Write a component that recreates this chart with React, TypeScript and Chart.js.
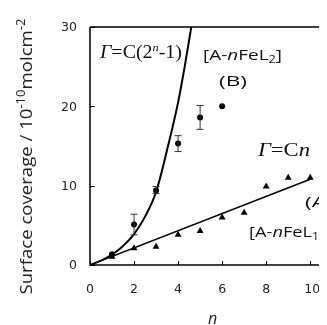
import React, { useEffect, useRef } from "react";
import { Chart, registerables } from "chart.js";

Chart.register(...registerables);

// ---- data ----
const nB = [1, 2, 3, 4, 5, 6];
const coverageB = [1.35, 5.1, 9.4, 15.3, 18.6, 20.0];
const errLowB = [1.35, 3.8, 9.0, 14.3, 17.1, 20.0];
const errHighB = [1.35, 6.4, 9.9, 16.3, 20.1, 20.0];

const nA = [1, 2, 3, 4, 5, 6, 7, 8, 9, 10];
const coverageA = [1.05, 2.1, 2.3, 3.8, 4.3, 6.0, 6.6, 9.9, 11.0, 11.0];

const fitExpN = [0, 0.5, 1, 1.5, 2, 2.5, 3, 3.5, 4, 4.3, 4.6];
const fitExpY = [0, 0.55, 1.3, 2.4, 3.9, 6.1, 9.2, 14.5, 20.5, 25, 30];

const fitLinN = [0, 10];
const fitLinY = [0, 10.8];

const xTicks = [0, 2, 4, 6, 8, 10];
const yTicks = [0, 10, 20, 30];

const TICK_FONT = "12.5px 'DejaVu Sans'";
const SANS = "'Open Sans'";
const SERIF = "'Liberation Serif'";

type Run = { t: string; f: string; dy?: number };

function runsWidth(ctx: CanvasRenderingContext2D, runs: Run[]) {
  let w = 0;
  for (const r of runs) {
    ctx.font = r.f;
    w += ctx.measureText(r.t).width;
  }
  return w;
}
// draws runs starting at (x, y); if fitWidth given, stretched horizontally to it
function drawRuns(ctx: CanvasRenderingContext2D, x: number, y: number, runs: Run[], fitWidth?: number) {
  const w = runsWidth(ctx, runs);
  const sx = fitWidth ? fitWidth / w : 1;
  ctx.save();
  ctx.translate(x, y);
  ctx.scale(sx, 1);
  let cx = 0;
  for (const r of runs) {
    ctx.font = r.f;
    ctx.fillText(r.t, cx, r.dy || 0);
    cx += ctx.measureText(r.t).width;
  }
  ctx.restore();
  return w * sx;
}

const decorPlugin = {
  id: "decor",
  afterDatasetsDraw(chart: any) {
    const ctx: CanvasRenderingContext2D = chart.ctx;
    const xs = chart.scales.x;
    const ys = chart.scales.y;
    const a = chart.chartArea;
    ctx.save();
    // error bars
    ctx.strokeStyle = "#333";
    ctx.lineWidth = 1;
    for (let i = 0; i < nB.length; i++) {
      if (errHighB[i] - errLowB[i] < 0.3) continue;
      const px = xs.getPixelForValue(nB[i]);
      const y1 = ys.getPixelForValue(errLowB[i]);
      const y2 = ys.getPixelForValue(errHighB[i]);
      ctx.beginPath();
      ctx.moveTo(px, y1);
      ctx.lineTo(px, y2);
      ctx.moveTo(px - 3.5, y1);
      ctx.lineTo(px + 3.5, y1);
      ctx.moveTo(px - 3.5, y2);
      ctx.lineTo(px + 3.5, y2);
      ctx.stroke();
    }
    // axes box
    ctx.strokeStyle = "#000";
    ctx.lineWidth = 1.5;
    ctx.beginPath();
    ctx.moveTo(a.left, a.top);
    ctx.lineTo(a.right, a.top);
    ctx.moveTo(a.left, a.top);
    ctx.lineTo(a.left, a.bottom);
    ctx.lineTo(a.right, a.bottom);
    ctx.stroke();
    // tick marks (inward)
    ctx.lineWidth = 1;
    ctx.beginPath();
    for (const v of xTicks) {
      const px = Math.round(xs.getPixelForValue(v)) + 0.5;
      ctx.moveTo(px, a.bottom);
      ctx.lineTo(px, a.bottom - 4);
    }
    for (const v of yTicks) {
      const py = Math.round(ys.getPixelForValue(v)) + 0.5;
      ctx.moveTo(a.left, py);
      ctx.lineTo(a.left + 5, py);
    }
    ctx.stroke();
    // tick labels
    ctx.fillStyle = "#222";
    ctx.font = TICK_FONT;
    ctx.textBaseline = "middle";
    ctx.textAlign = "center";
    for (const v of xTicks) {
      ctx.fillText(String(v), xs.getPixelForValue(v) + (v === 10 ? 2 : 0), a.bottom + 25);
    }
    ctx.textAlign = "right";
    for (const v of yTicks) {
      ctx.fillText(String(v), a.left - 13, ys.getPixelForValue(v) + 1);
    }
    // x title
    ctx.textAlign = "center";
    ctx.font = `italic 16px ${SANS}`;
    ctx.fillText("n", (a.left + a.right) / 2 + 6, a.bottom + 54);

    // y title (rotated)
    ctx.textAlign = "left";
    ctx.textBaseline = "alphabetic";
    const yRuns: Run[] = [
      { t: "Surface coverage / 10", f: `17px ${SANS}` },
      { t: "-10", f: `12px ${SANS}`, dy: -7 },
      { t: "molcm", f: `17px ${SANS}` },
      { t: "-2", f: `12px ${SANS}`, dy: -7 },
    ];
    const yLen = 276;
    ctx.save();
    ctx.translate(24, 148.5);
    ctx.rotate(-Math.PI / 2);
    drawRuns(ctx, -yLen / 2, 0, yRuns, yLen);
    ctx.restore();

    // annotations
    ctx.fillStyle = "#111";
    ctx.textBaseline = "middle";
    drawRuns(
      ctx,
      92,
      45,
      [
        { t: "Γ", f: `italic 18px ${SERIF}` },
        { t: "=C(2", f: `18px ${SERIF}` },
        { t: "n", f: `italic 11px ${SERIF}`, dy: -5 },
        { t: "-1)", f: `18px ${SERIF}` },
      ],
      82
    );
    drawRuns(
      ctx,
      195,
      48,
      [
        { t: "[A-", f: `15px ${SANS}` },
        { t: "n", f: `italic 15px ${SANS}` },
        { t: "FeL", f: `15px ${SANS}` },
        { t: "2", f: `10px ${SANS}`, dy: 4 },
        { t: "]", f: `15px ${SANS}` },
      ],
      79
    );
    drawRuns(ctx, 211, 74, [{ t: "(B)", f: `15px ${SANS}` }], 28);
    drawRuns(
      ctx,
      250,
      143,
      [
        { t: "Γ", f: `italic 18px ${SERIF}` },
        { t: "=C", f: `18px ${SERIF}` },
        { t: "n", f: `italic 18px ${SERIF}` },
      ],
      52
    );
    drawRuns(ctx, 297, 195, [{ t: "(A)", f: `15px ${SANS}` }], 28);
    drawRuns(
      ctx,
      241,
      225,
      [
        { t: "[A-", f: `15px ${SANS}` },
        { t: "n", f: `italic 15px ${SANS}` },
        { t: "FeL", f: `15px ${SANS}` },
        { t: "1", f: `10px ${SANS}`, dy: 4 },
        { t: "]", f: `15px ${SANS}` },
      ],
      76
    );
    ctx.restore();
  },
};

export default function App() {
  const ref = useRef<HTMLCanvasElement | null>(null);
  useEffect(() => {
    if (!ref.current) return;
    const chart = new Chart(ref.current, {
      type: "scatter",
      data: {
        datasets: [
          {
            type: "line",
            data: fitExpN.map((n, i) => ({ x: n, y: fitExpY[i] })),
            borderColor: "#000",
            borderWidth: 2,
            pointRadius: 0,
            cubicInterpolationMode: "monotone",
            fill: false,
          } as any,
          {
            type: "line",
            data: fitLinN.map((n, i) => ({ x: n, y: fitLinY[i] })),
            borderColor: "#000",
            borderWidth: 1.5,
            pointRadius: 0,
            fill: false,
          } as any,
          {
            data: nA.map((n, i) => ({ x: n, y: coverageA[i] })),
            pointStyle: "triangle",
            pointRadius: 4,
            backgroundColor: "#000",
            borderColor: "#000",
            borderWidth: 0,
          },
          {
            data: nB.map((n, i) => ({ x: n, y: coverageB[i] })),
            pointStyle: "circle",
            pointRadius: 3,
            backgroundColor: "#000",
            borderColor: "#000",
            borderWidth: 0,
          },
        ],
      },
      options: {
        animation: false,
        responsive: false,
        maintainAspectRatio: false,
        layout: { padding: { top: 19, left: 0, right: 0, bottom: 0 } },
        plugins: { legend: { display: false }, tooltip: { enabled: false } },
        scales: {
          x: {
            type: "linear",
            min: 0,
            max: 10.58,
            grid: { display: false },
            border: { display: false },
            ticks: { display: false },
            afterFit(s: any) {
              s.height = 60;
            },
          },
          y: {
            type: "linear",
            min: 0,
            max: 30,
            grid: { display: false },
            border: { display: false },
            ticks: { display: false },
            afterFit(s: any) {
              s.width = 82;
            },
          },
        },
      },
      plugins: [decorPlugin],
    });
    return () => chart.destroy();
  }, []);
  return (
    <div style={{ width: 319, height: 317 }}>
      <canvas ref={ref} width={319} height={317} style={{ display: "block" }} />
    </div>
  );
}
